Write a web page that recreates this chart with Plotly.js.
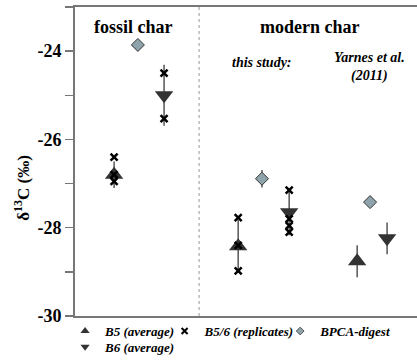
<!DOCTYPE html>
<html>
<head>
<meta charset="utf-8">
<script src="https://cdn.plot.ly/plotly-3.0.1.min.js"></script>
<style>html,body{margin:0;padding:0;background:#fff;}#chart{width:417px;height:360px;}</style>
</head>
<body>
<div id="chart"></div>
<script>
// Group positions along the x axis (fossil char | modern char: this study | Yarnes et al. 2011)
const b5X = [1.15, 4.8, 8.3];
const b5Y = [-26.8, -28.42, -28.76];
const b5Err = [0.3, 0.6, 0.36];

const b6X = [2.62, 6.3, 9.18];
const b6Y = [-25.0, -27.65, -28.24];
const b6Err = [0.69, 0.52, 0.36];

const repX = [1.15, 1.15, 1.15, 2.62, 2.62, 4.8, 4.8, 4.8, 6.3, 6.3, 6.3, 6.3];
const repY = [-26.4, -26.8, -26.95, -24.5, -25.53, -27.77, -28.4, -28.98, -27.15, -27.8, -27.95, -28.1];

const bpcaX = [1.85, 5.5, 8.68];
const bpcaY = [-23.86, -26.89, -27.42];
const bpcaErr = [0, 0.2, 0];

const yTickVals = [-30, -28, -26, -24];
const yTickText = ['-30', '-28', '-26', '-24'];

const seriesNames = ['B5 (average)', 'B5/6 (replicates)', 'BPCA-digest', 'B6 (average)'];

const dividerX = 3.65;

const FONT = 'Liberation Serif, Times New Roman, serif';
const DARK = '#333333';
const BPCA_FILL = '#8fa3ab';

const bi = (s) => '<b><i>' + s + '</i></b>';
const errStyle = (arr) => ({type: 'data', array: arr, visible: true, width: 0, thickness: 1.5, color: '#555555'});

const traces = [
  {x: b5X, y: b5Y, mode: 'markers', type: 'scatter', name: seriesNames[0], showlegend: false,
   marker: {symbol: 'triangle-up', size: 16, color: DARK, line: {width: 0}}, error_y: errStyle(b5Err)},
  {x: b6X, y: b6Y, mode: 'markers', type: 'scatter', name: seriesNames[3], showlegend: false,
   marker: {symbol: 'triangle-down', size: 16, color: DARK, line: {width: 0}}, error_y: errStyle(b6Err)},
  {x: repX, y: repY, mode: 'markers', type: 'scatter', name: seriesNames[1], showlegend: false,
   marker: {symbol: 'x-thin', size: 7, color: '#000', line: {width: 2.5, color: '#000'}}},
  {x: bpcaX, y: bpcaY, mode: 'markers', type: 'scatter', name: seriesNames[2], showlegend: false,
   marker: {symbol: 'diamond', size: 10, color: BPCA_FILL, line: {width: 1, color: '#333'}}, error_y: errStyle(bpcaErr)},
  // legend entries (small symbols, as in the original key)
  {x: [null], y: [null], mode: 'markers', type: 'scatter', name: bi(seriesNames[0]), legend: 'legend',
   marker: {symbol: 'triangle-up', size: 8, color: DARK}},
  {x: [null], y: [null], mode: 'markers', type: 'scatter', name: bi(seriesNames[1]), legend: 'legend2',
   marker: {symbol: 'x-thin', size: 6, color: '#000', line: {width: 2, color: '#000'}}},
  {x: [null], y: [null], mode: 'markers', type: 'scatter', name: bi(seriesNames[2]), legend: 'legend3',
   marker: {symbol: 'diamond', size: 6, color: BPCA_FILL, line: {width: 1, color: '#555'}}},
  {x: [null], y: [null], mode: 'markers', type: 'scatter', name: bi(seriesNames[3]), legend: 'legend4',
   marker: {symbol: 'triangle-down', size: 8, color: DARK}}
];

const legendBase = {orientation: 'h', xanchor: 'left', yanchor: 'top', yref: 'container',
  font: {family: FONT, size: 13, color: '#000'},
  traceorder: 'normal', bgcolor: 'rgba(0,0,0,0)', tracegroupgap: 0};

const layout = {
  width: 417, height: 360,
  margin: {l: 75, r: 0, t: 7, b: 44},
  paper_bgcolor: '#fff', plot_bgcolor: '#fff',
  font: {family: FONT, color: '#000'},
  showlegend: true,
  legend: Object.assign({}, legendBase, {x: -0.029, y: 0.122}),
  legend2: Object.assign({}, legendBase, {x: 0.262, y: 0.122}),
  legend3: Object.assign({}, legendBase, {x: 0.60, y: 0.122}),
  legend4: Object.assign({}, legendBase, {x: -0.029, y: 0.078}),
  xaxis: {range: [0, 10.06], showticklabels: false, ticks: '', showgrid: false, zeroline: false,
          showline: true, mirror: true, linecolor: '#777', linewidth: 2, fixedrange: true},
  yaxis: {range: [-30, -23], tickmode: 'array', tickvals: yTickVals, ticktext: yTickText.map(t => '<b>' + t + '</b>'),
          ticks: 'outside', ticklen: 8, tickwidth: 1.5, tickcolor: '#777',
          minor: {dtick: 1, tick0: -30, ticks: 'outside', ticklen: 8, tickwidth: 1.5, tickcolor: '#777'},
          showline: true, linecolor: '#777', linewidth: 2, showgrid: false, zeroline: false,
          tickfont: {family: FONT, size: 18, color: '#000'}},
  shapes: [
    {type: 'line', xref: 'x', yref: 'paper', x0: dividerX, x1: dividerX, y0: 0, y1: 1,
     line: {color: '#999', width: 1, dash: 'dot'}}
  ],
  annotations: [
    {x: -0.155, y: 0.415, xref: 'paper', yref: 'paper', text: '<b>δ<sup>13</sup>C (‰)</b>', showarrow: false,
     textangle: -90, xanchor: 'center', yanchor: 'middle', font: {family: FONT, size: 17, color: '#000'}},
    {x: 1.71, y: -23.45, xref: 'x', yref: 'y', text: '<b>fossil char</b>', showarrow: false,
     font: {family: FONT, size: 18, color: '#000'}},
    {x: 6.91, y: -23.45, xref: 'x', yref: 'y', text: '<b>modern char</b>', showarrow: false,
     font: {family: FONT, size: 18, color: '#000'}},
    {x: 5.5, y: -24.25, xref: 'x', yref: 'y', text: '<b><i>this study:</i></b>', showarrow: false,
     font: {family: FONT, size: 14, color: '#000'}},
    {x: 8.65, y: -24.37, xref: 'x', yref: 'y', text: '<b><i>Yarnes et al.<br>(2011)</i></b>', showarrow: false,
     font: {family: FONT, size: 14, color: '#000'}}
  ]
};

Plotly.newPlot('chart', traces, layout, {displayModeBar: false, staticPlot: true});
</script>
</body>
</html>
